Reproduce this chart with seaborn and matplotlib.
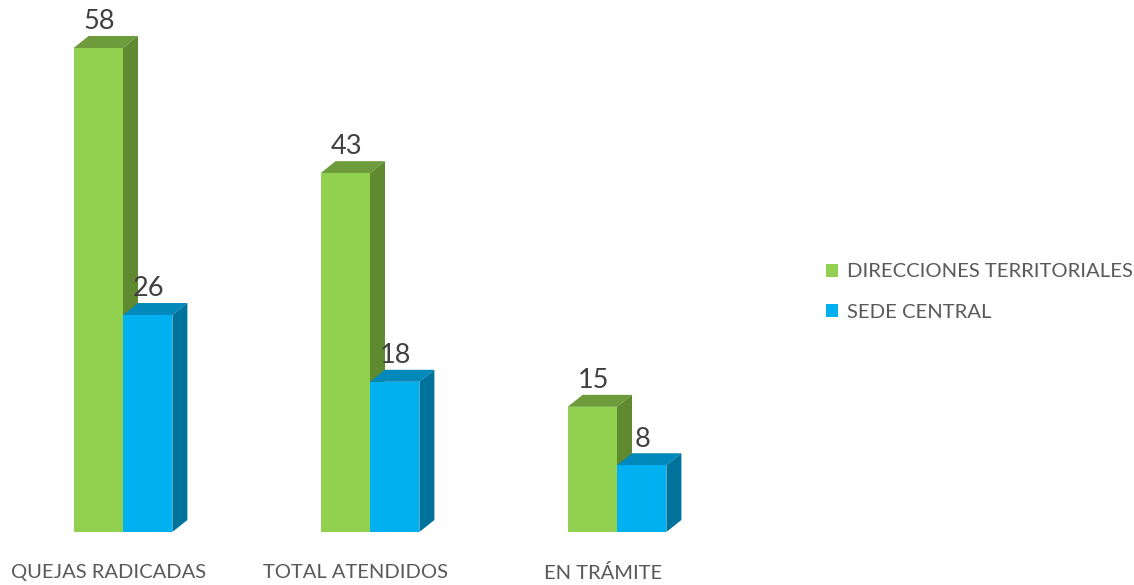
import matplotlib
matplotlib.use("Agg")
import matplotlib.pyplot as plt
from matplotlib.patches import Polygon, Patch
import seaborn as sns
import pandas as pd
import numpy as np

categories = ["QUEJAS RADICADAS", "TOTAL ATENDIDOS", "EN TRÁMITE"]
series_names = ["DIRECCIONES TERRITORIALES", "SEDE CENTRAL"]
direcciones = [58, 43, 15]
sede = [26, 18, 8]
front_colors = ["#92D050", "#00B0F0"]
top_colors = ["#6E9C3C", "#0089BA"]
side_colors = ["#5F8A30", "#00739C"]

df = pd.DataFrame({
    "cat": categories * 2,
    "serie": [series_names[0]] * 3 + [series_names[1]] * 3,
    "val": direcciones + sede,
})

sns.set_theme(style="white")
plt.rcParams["font.family"] = ["Lato", "DejaVu Sans"]

W, H = 1134, 585
fig = plt.figure(figsize=(W / 100, H / 100), dpi=100)
# axes geometry in pixels
px_left, px_right, px_top, px_bottom = 10, 770, 10, 532
ax = fig.add_axes([px_left / W, (H - px_bottom) / H, (px_right - px_left) / W, (px_bottom - px_top) / H])

sns.barplot(data=df, x="cat", y="val", hue="serie", order=categories, hue_order=series_names,
            palette=front_colors, saturation=1, width=0.4, dodge=True, legend=False, ax=ax,
            linewidth=0, errorbar=None)

xpx = 247.0
x0px = 123.0
xmin = (px_left - x0px) / xpx
xmax = (px_right - x0px) / xpx
ypx = 8.345
ax.set_xlim(xmin, xmax)
ax.set_ylim(0, (px_bottom - px_top) / ypx)

dx = 15 / xpx
dy = 12 / ypx

for i, cont in enumerate(ax.containers):
    z = 2 + i
    for bar in cont:
        bar.set_zorder(z + 0.5)
        x = bar.get_x()
        w = bar.get_width()
        h = bar.get_height()
        top = Polygon([(x, h), (x + dx, h + dy), (x + w + dx, h + dy), (x + w, h)],
                      closed=True, facecolor=top_colors[i], edgecolor="none", zorder=z, clip_on=False)
        side = Polygon([(x + w, 0), (x + w, h), (x + w + dx, h + dy), (x + w + dx, dy)],
                       closed=True, facecolor=side_colors[i], edgecolor="none", zorder=z, clip_on=False)
        ax.add_patch(top)
        ax.add_patch(side)
        ax.text(x + w / 2 + 0.005, h + dy + 0.2, f"{int(h)}", ha="center", va="bottom",
                fontsize=19.5, color="#404040", zorder=10)

ax.set_xticks(np.arange(len(categories)) - 0.057)
ax.set_xticklabels(categories, fontsize=14.5, color="#595959")
ax.tick_params(axis="x", length=0, pad=23)
ax.set_yticks([])
ax.set_xlabel("")
ax.set_ylabel("")
for s in ax.spines.values():
    s.set_visible(False)

handles = [Patch(facecolor=c, edgecolor="none") for c in front_colors]
fig.legend(handles, series_names, loc="upper left", bbox_to_anchor=(808 / W, 1 - 245 / H),
           frameon=False, fontsize=14.6, handlelength=0.6, handleheight=0.6, handletextpad=0.4,
           labelspacing=1.15, labelcolor="#595959")

fig.savefig("out.png", dpi=100)
